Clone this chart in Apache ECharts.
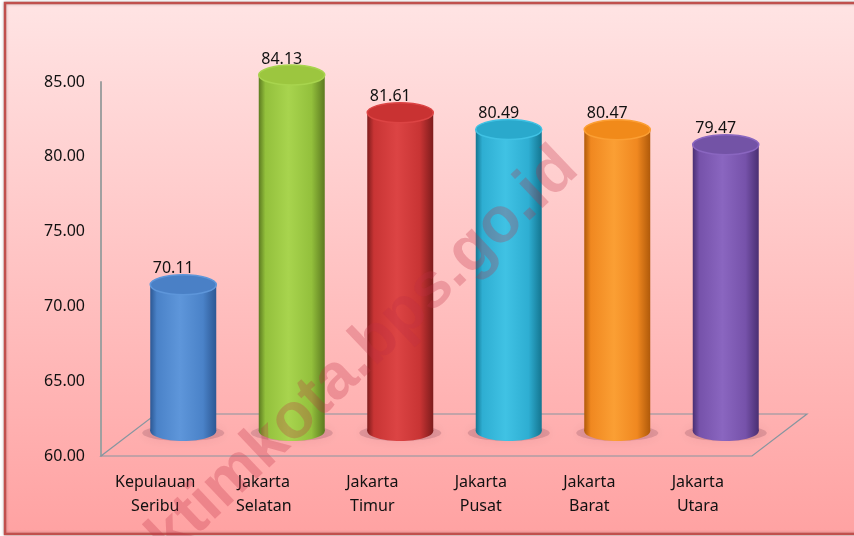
<!DOCTYPE html>
<html>
<head>
<meta charset="utf-8">
<script src="https://cdn.jsdelivr.net/npm/echarts@6/dist/echarts.min.js"></script>
<style>
html, body { margin: 0; padding: 0; background: #fff; }
#chart { width: 854px; height: 536px; }
</style>
</head>
<body>
<div id="chart"></div>
<script>
// data
var categories = ["Kepulauan\nSeribu", "Jakarta\nSelatan", "Jakarta\nTimur", "Jakarta\nPusat", "Jakarta\nBarat", "Jakarta\nUtara"];
var values = [70.11, 84.13, 81.61, 80.49, 80.47, 79.47];
var yMin = 60;
var yMax = 85;
var yStep = 5;

// cylinder colours: [dark edge, body, highlight, top face]
var barColors = [
  ["#2c5894", "#4a82c8", "#5e96da", "#4a80c6"],
  ["#5c7a20", "#93c03c", "#a8d44e", "#9cc63f"],
  ["#7e1c1c", "#c83434", "#dc4444", "#c93232"],
  ["#147590", "#2eaed2", "#40c2e4", "#2aa9cc"],
  ["#b05a0a", "#f08820", "#fb9f34", "#f18a1a"],
  ["#4a2f72", "#7652aa", "#8a66c0", "#7353a6"]
];

var chartDom = document.getElementById("chart");
var myChart = echarts.init(chartDom);

var depthX = 55, depthY = -42;

function renderFloor(params, api) {
  var cs = params.coordSys;
  var x0 = cs.x, y0 = cs.y + cs.height, x1 = cs.x + cs.width;
  return {
    type: "polygon",
    shape: { points: [[x0, y0], [x1, y0], [x1 + depthX, y0 + depthY], [x0 + depthX, y0 + depthY]] },
    style: { fill: "rgba(0,0,0,0)", stroke: "#8796a0", lineWidth: 1.2 }
  };
}

function renderCylinder(params, api) {
  var i = api.value(0);
  var v = api.value(1);
  var top = api.coord([i, v]);
  var base = api.coord([i, yMin]);
  var cx = top[0] + 28;
  var rx = 33, ry = 10;
  var yTop = top[1] - 20;
  var yBot = base[1] - 25;
  var c = barColors[i];
  var side = new echarts.graphic.LinearGradient(0, 0, 1, 0, [
    { offset: 0, color: c[0] },
    { offset: 0.1, color: c[1] },
    { offset: 0.45, color: c[2] },
    { offset: 0.8, color: c[1] },
    { offset: 1, color: c[0] }
  ]);
  return {
    type: "group",
    children: [
      {
        type: "ellipse",
        shape: { cx: cx, cy: yBot + 2, rx: rx + 8, ry: ry - 2 },
        style: { fill: "rgba(90,40,60,0.18)", shadowBlur: 12, shadowColor: "rgba(90,30,50,0.45)" }
      },
      {
        type: "rect",
        shape: { x: cx - rx, y: yTop, width: rx * 2, height: yBot - yTop },
        style: { fill: side }
      },
      {
        type: "ellipse",
        shape: { cx: cx, cy: yBot, rx: rx, ry: ry },
        style: { fill: side }
      },
      {
        type: "ellipse",
        shape: { cx: cx, cy: yTop, rx: rx, ry: ry },
        style: { fill: c[3], stroke: c[2], lineWidth: 1.5 }
      },
      {
        type: "text",
        style: {
          text: v.toFixed(2),
          x: cx - 10,
          y: yTop - ry + 2,
          align: "center",
          verticalAlign: "bottom",
          font: "16px 'Noto Sans'",
          fill: "#111"
        }
      }
    ]
  };
}

var option = {
  animation: false,
  graphic: [
    {
      type: "rect",
      z: -10,
      shape: { x: 5, y: 3, width: 860, height: 531 },
      style: {
        fill: new echarts.graphic.LinearGradient(0, 0, 0, 1, [
          { offset: 0, color: "#ffe4e4" },
          { offset: 1, color: "#ffa2a2" }
        ]),
        stroke: "#c0504d",
        lineWidth: 2.5,
        shadowBlur: 3,
        shadowColor: "rgba(0,0,0,0.25)"
      }
    },
    {
      type: "text",
      z: 50,
      x: 344,
      y: 372,
      rotation: 43.5 * Math.PI / 180,
      silent: true,
      style: {
        text: "jaktimkota.bps.go.id",
        align: "center",
        verticalAlign: "middle",
        font: "bold 64px 'Liberation Sans'",
        fill: "rgba(190,45,70,0.28)"
      }
    }
  ],
  grid: {
    left: 101,
    right: 102,
    top: 82,
    bottom: 80,
    containLabel: false,
    outerBoundsMode: "none"
  },
  xAxis: {
    type: "category",
    data: categories,
    axisLine: { show: false },
    axisTick: { show: false },
    axisLabel: {
      margin: 14,
      lineHeight: 24,
      fontSize: 16,
      fontFamily: "Noto Sans",
      color: "#111"
    }
  },
  yAxis: {
    type: "value",
    min: yMin,
    max: yMax,
    interval: yStep,
    splitLine: { show: false },
    axisTick: { show: false },
    axisLine: { show: true, lineStyle: { color: "#a0a0a0", width: 2 } },
    axisLabel: {
      margin: 16,
      fontSize: 16,
      fontFamily: "Noto Sans",
      color: "#111",
      formatter: function (v) { return v.toFixed(2); }
    }
  },
  series: [
    {
      type: "custom",
      renderItem: renderFloor,
      data: [[0]],
      z: 1,
      silent: true
    },
    {
      type: "custom",
      renderItem: renderCylinder,
      data: values.map(function (v, i) { return [i, v]; }),
      encode: { x: 0, y: 1 },
      z: 2
    }
  ]
};

myChart.setOption(option);

window.onresize = function () {
  myChart.resize();
};
</script>
</body>
</html>
